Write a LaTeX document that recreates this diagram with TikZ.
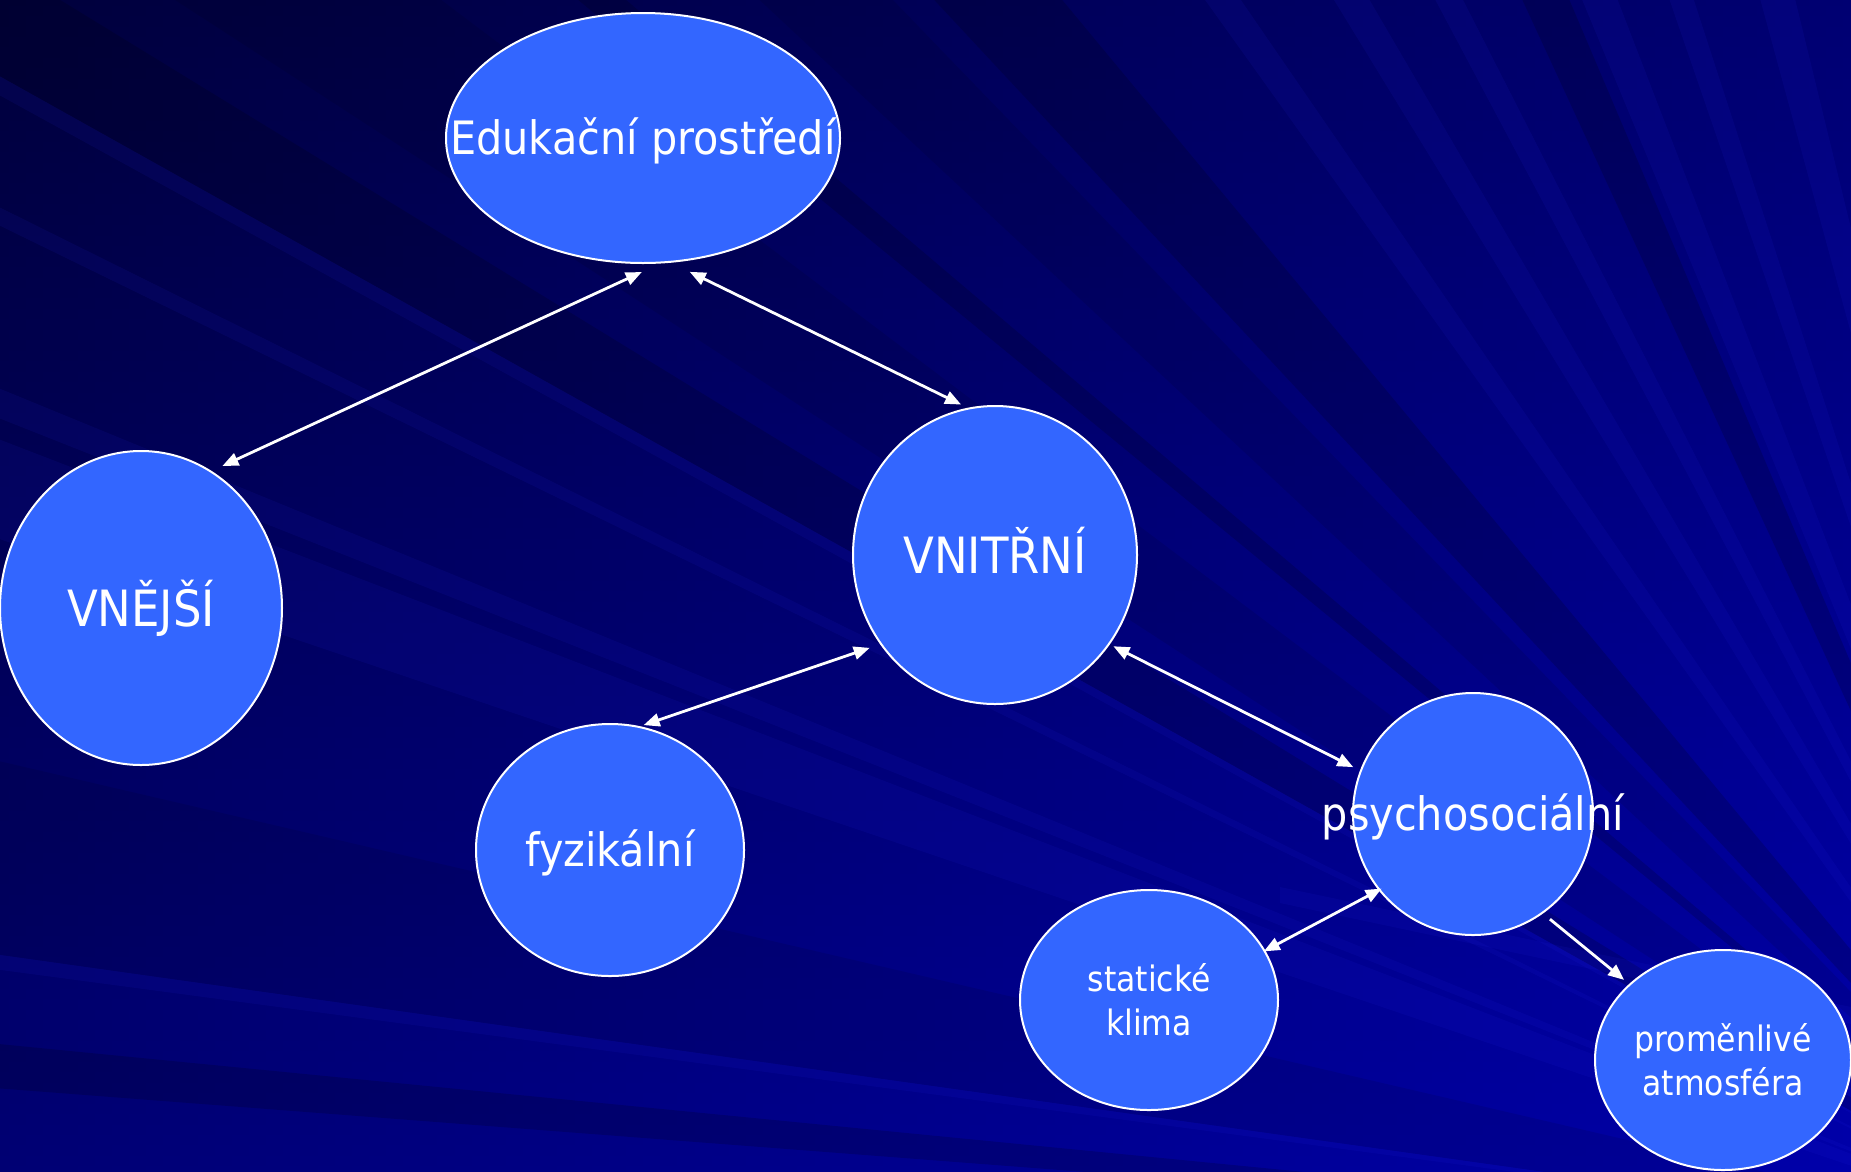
\documentclass[tikz,border=0pt]{standalone}
\usepackage{fontspec}
\setmainfont{DejaVu Sans Condensed}
\usetikzlibrary{shapes.geometric,arrows.meta}
\definecolor{nodeblue}{HTML}{3366FF}
\definecolor{bgdark}{HTML}{00003C}
\definecolor{bgbottom}{HTML}{0000AC}
\definecolor{bgright}{HTML}{0000A8}
\definecolor{raylight}{HTML}{3030FF}
\begin{document}
\begin{tikzpicture}[x=1pt,y=-1pt,
  bubble/.style={ellipse, draw=white, line width=2pt, fill=nodeblue, inner sep=0pt, outer sep=0pt},
  lbl/.style={text=white, font=\fontsize{46}{55}\selectfont, inner sep=0pt, text height=33.6pt, text depth=0pt},
  lblcaps/.style={text=white, font=\fontsize{50}{60}\selectfont, inner sep=0pt, text height=36.5pt, text depth=0pt},
  slbl/.style={text=white, font=\fontsize{35}{44}\selectfont, align=center, inner sep=0pt},
  conn/.style={draw=white, line width=2.8pt, {Triangle[length=16pt,width=13pt]}-{Triangle[length=16pt,width=13pt]}},
  connone/.style={draw=white, line width=2.8pt, -{Triangle[length=16pt,width=13pt]}},
  darkray/.style={fill=black, opacity=0.16},
  softdark/.style={fill=black, opacity=0.09},
  lightray/.style={fill=raylight, opacity=0.08}
]
\useasboundingbox (0,0) rectangle (1851,1171);
% background
\fill[bgdark] (0,0) rectangle (1851,1171);
\shade[top color=bgdark, bottom color=bgbottom] (0,0) rectangle (1851,1171);
\shade[left color=bgdark, right color=bgright, opacity=0.5] (0,0) rectangle (1851,1171);
\begin{scope}
  \clip (0,0) rectangle (1851,1171);
  \coordinate (P) at (2100,1250);
  \foreach \a/\b in {4.4/5.6, 29.2/31.5, 39.4/40.3, 47/50.3, 65.2/67}
    \fill[darkray] (P) -- +(180+\a:3000) -- +(180+\b:3000) -- cycle;
  \foreach \a/\b in {8/13.1, 33/37, 43/46}
    \fill[softdark] (P) -- +(180+\a:3000) -- +(180+\b:3000) -- cycle;
  \foreach \a/\b in {7.6/8.0, 18.7/21.1, 21.6/22.3, 26.0/26.4, 28.8/29.2, 54.4/55.5, 58.5/59.7, 62/63, 67.5/68.9, 71/72, 74.8/76.3}
    \fill[lightray] (P) -- +(180+\a:3000) -- +(180+\b:3000) -- cycle;
  \fill[lightray] (1280,887) -- (1851,1007) -- (1851,1024) -- (1280,903) -- cycle;
\end{scope}
% nodes
\node[bubble, minimum width=394pt, minimum height=250pt, label={[lbl]center:Edukační prostředí}] (edu) at (643,138) {};
\node[bubble, minimum width=282pt, minimum height=314pt, label={[lblcaps]center:VNĚJŠÍ}] (vnejsi) at (141,608) {};
\node[bubble, minimum width=284pt, minimum height=298pt, label={[lblcaps]center:VNITŘNÍ}] (vnitrni) at (995,555) {};
\node[bubble, minimum width=268pt, minimum height=252pt, label={[lbl]center:fyzikální}] (fyz) at (610,850) {};
\node[bubble, minimum width=240pt, minimum height=242pt, label={[lbl]center:psychosociální}] (psycho) at (1473,814) {};
\node[bubble, minimum width=258pt, minimum height=220pt, label={[slbl]center:{statické\\klima}}] (staticke) at (1149,1000) {};
\node[bubble, minimum width=256pt, minimum height=220pt, label={[slbl]center:{proměnlivé\\atmosféra}}] (promen) at (1723,1060) {};
% connectors
\draw[conn, shorten <=23pt, shorten >=13pt] (edu.-81.4) -- (vnejsi.63.7);
\draw[conn, shorten <=22.7pt, shorten >=9pt] (edu.-78.3) -- (vnitrni.100.9);
\draw[conn, shorten <=12pt, shorten >=5.5pt] (vnitrni.218.1) -- (fyz.77.3);
\draw[conn, shorten <=5pt, shorten >=8.5pt] (vnitrni.-38.9) -- (psycho.159.4);
\draw[conn, shorten <=-2.5pt, shorten >=-0.8pt] (psycho.219.9) -- (staticke.23.7);
\draw[connone, shorten <=10pt, shorten >=7.4pt] (psycho.-55.7) -- (promen.141);
\end{tikzpicture}
\end{document}
